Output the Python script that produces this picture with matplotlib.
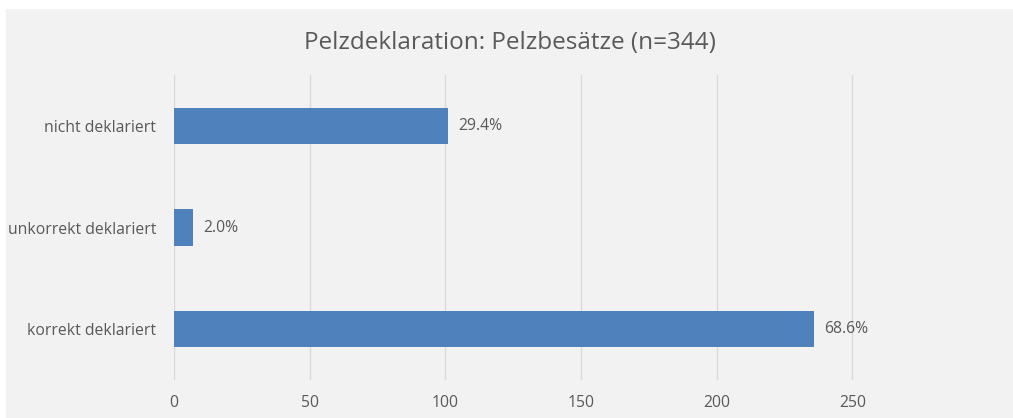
import matplotlib
matplotlib.use("Agg")
import matplotlib.pyplot as plt
from matplotlib.patches import Rectangle

# Werte (n=344)
kategorien = ["korrekt deklariert", "unkorrekt deklariert", "nicht deklariert"]
anzahl = [236, 7, 101]
prozent_labels = ["68.6%", "2.0%", "29.4%"]
x_ticks = [0, 50, 100, 150, 200, 250]
titel = "Pelzdeklaration: Pelzbesätze (n=344)"

plt.rcParams['font.family'] = ['Open Sans', 'DejaVu Sans']
textfarbe = "#595959"

W, H = 1013, 418
fig = plt.figure(figsize=(W / 100, H / 100), dpi=100)
fig.patch.set_facecolor("white")

# grauer Diagrammbereich
fig.patches.append(Rectangle((6 / W, 0), 1 - 6 / W, 1 - 9 / H,
                             transform=fig.transFigure, facecolor="#f2f2f2",
                             edgecolor="none", zorder=-10))

left, right = 174, 980
top, bottom = 75, 380
ax = fig.add_axes([left / W, 1 - bottom / H, (right - left) / W, (bottom - top) / H])
ax.set_facecolor("none")

pos = list(range(len(kategorien)))
bars = ax.barh(pos, anzahl, height=0.355, color="#4f81bd", zorder=3)
for b, lab in zip(bars, prozent_labels):
    ax.text(b.get_width() + 3.7, b.get_y() + b.get_height() / 2, lab,
            va="center", ha="left", fontsize=11.3, color=textfarbe)

ax.set_xlim(0, 297)
ax.set_ylim(-0.5, 2.5)
ax.set_xticks(x_ticks)
ax.set_yticks(pos)
ax.set_yticklabels(kategorien)
ax.grid(axis="x", color="#d9d9d9", linewidth=1, zorder=0)
for s in ax.spines.values():
    s.set_visible(False)
ax.tick_params(axis="both", length=0, labelsize=11.3, colors=textfarbe)
ax.tick_params(axis="x", pad=11)
ax.tick_params(axis="y", pad=13)

fig.text(0.5 * (6 / W + 1), 1 - 43 / H, titel, ha="center", va="center",
         fontsize=17.5, color=textfarbe)

fig.savefig("out.png", dpi=100)
